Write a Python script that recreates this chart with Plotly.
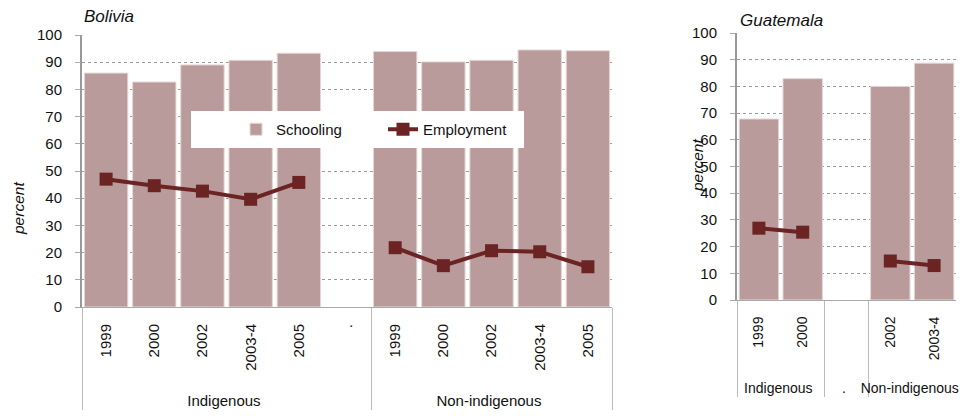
import plotly.graph_objects as go

# ---- data ----
bo_groups = ["Indigenous"] * 6 + ["Non-indigenous"] * 5
bo_years = ["1999", "2000", "2002", "2003-4", "2005", ".",
            "1999", "2000", "2002", "2003-4", "2005"]
bo_school = [86, 82.7, 89, 90.7, 93.3, None, 93.9, 90.1, 90.7, 94.5, 94.2]
bo_employ = [47, 44.6, 42.6, 39.6, 45.8, None, 21.8, 15.2, 20.7, 20.3, 14.8]

gu_groups = ["Indigenous", "Indigenous", ".", "Non-indigenous", "Non-indigenous"]
gu_years = ["1999", "2000", " ", "2002", "2003-4"]
gu_school = [67.8, 82.9, None, 80, 88.7]
gu_employ = [26.9, 25.4, None, 14.6, 12.9]

BAR = "#B99B9B"
LINE = "#6B2323"
FONT = "Liberation Sans, Arial, sans-serif"
FS = 15
TXT = "#111111"
PAD = "\u00a0" * 4  # invisible lead-in so the group row sits lower, as in the original


def padded(labels):
    return [PAD + s for s in labels]


bo_x = [bo_groups, padded(bo_years)]
gu_x = [gu_groups, padded(gu_years)]

fig = go.Figure()
fig.add_trace(go.Bar(x=bo_x, y=bo_school, name="Schooling",
                     marker=dict(color=BAR, line=dict(color="#E6D6D6", width=1)),
                     xaxis="x", yaxis="y"))
fig.add_trace(go.Scatter(x=bo_x, y=bo_employ, name="Employment",
                         mode="lines+markers",
                         line=dict(color=LINE, width=4),
                         marker=dict(symbol="square", size=13, color=LINE),
                         xaxis="x", yaxis="y"))
fig.add_trace(go.Bar(x=gu_x, y=gu_school, name="Schooling",
                     showlegend=False,
                     marker=dict(color=BAR, line=dict(color="#E6D6D6", width=1)),
                     xaxis="x2", yaxis="y2"))
fig.add_trace(go.Scatter(x=gu_x, y=gu_employ, name="Employment",
                         showlegend=False, mode="lines+markers",
                         line=dict(color=LINE, width=4),
                         marker=dict(symbol="square", size=13, color=LINE),
                         xaxis="x2", yaxis="y2"))

W, H = 965, 416


def xax(fs, n):
    return dict(type="multicategory", showdividers=True, dividercolor="#BBBBBB",
                dividerwidth=1, tickangle=-90, showline=True, linecolor="#AAAAAA",
                linewidth=1, showgrid=False, ticks="", automargin=False,
                range=[-0.5, n - 0.5], ticklabelstandoff=10,
                tickfont=dict(family=FONT, size=fs, color=TXT))


ycommon = dict(range=[0, 100], dtick=10, showgrid=True, gridcolor="#999999",
               griddash="dot", gridwidth=1, showline=True, linecolor="#999999",
               linewidth=2, ticks="outside", ticklen=5, tickcolor="#AAAAAA",
               ticklabelstandoff=10, zeroline=False, automargin=False,
               tickfont=dict(family=FONT, size=FS, color=TXT))

fig.update_layout(
    width=W, height=H,
    margin=dict(l=0, r=0, t=0, b=0),
    paper_bgcolor="white", plot_bgcolor="white",
    bargap=0.1,
    font=dict(family=FONT, size=FS, color=TXT),
    xaxis=dict(domain=[82 / W, 612 / W], anchor="y", **xax(15, len(bo_years))),
    yaxis=dict(domain=[1 - 307 / H, 1 - 35 / H], anchor="x", **ycommon),
    xaxis2=dict(domain=[737 / W, 956 / W], anchor="y2", **xax(14, len(gu_years))),
    yaxis2=dict(domain=[1 - 300 / H, 1 - 33 / H], anchor="x2", **ycommon),
    legend=dict(orientation="h", x=236 / W, y=1 - 113 / H, xanchor="left",
                yanchor="top", bgcolor="rgba(0,0,0,0)", entrywidth=102,
                font=dict(family=FONT, size=FS, color=TXT),
                itemwidth=30, traceorder="normal"),
    showlegend=True,
    shapes=[
        dict(type="rect", xref="paper", yref="paper", layer="above",
             x0=191 / W, x1=524 / W, y0=1 - 148 / H, y1=1 - 111 / H,
             fillcolor="white", line=dict(width=0)),
    ],
    annotations=[
        dict(text="<i>Bolivia</i>", x=82 / W, y=1 - 17 / H, xref="paper", yref="paper",
             xanchor="left", yanchor="middle", showarrow=False,
             font=dict(family=FONT, size=17, color=TXT)),
        dict(text="<i>Guatemala</i>", x=738 / W, y=1 - 20 / H, xref="paper", yref="paper",
             xanchor="left", yanchor="middle", showarrow=False,
             font=dict(family=FONT, size=17, color=TXT)),
        dict(text="<i>percent</i>", x=18 / W, y=1 - 209 / H, xref="paper", yref="paper",
             xanchor="center", yanchor="middle", textangle=-90, showarrow=False,
             font=dict(family=FONT, size=15.5, color=TXT)),
        dict(text="<i>percent</i>", x=697 / W, y=1 - 166 / H, xref="paper", yref="paper",
             xanchor="center", yanchor="middle", textangle=-90, showarrow=False,
             font=dict(family=FONT, size=15.5, color=TXT)),
    ],
)

fig.write_html("out.html", config={"displayModeBar": False},
               post_script="document.body.style.margin='0';document.body.style.overflow='hidden';")
